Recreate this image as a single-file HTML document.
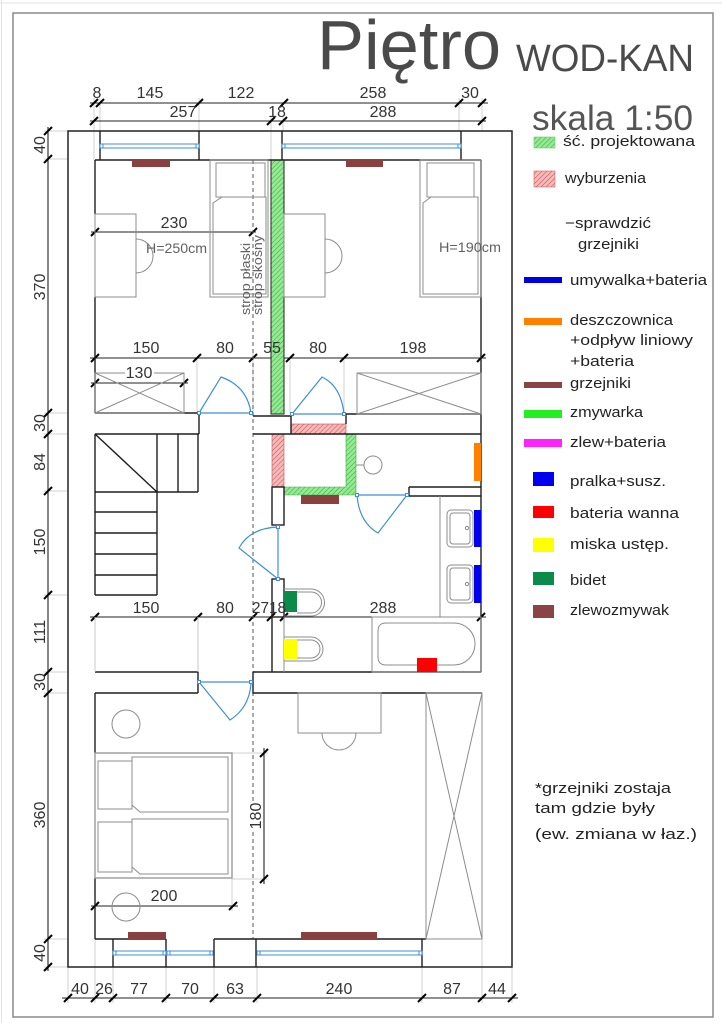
<!DOCTYPE html>
<html><head><meta charset="utf-8">
<style>html,body{margin:0;padding:0;background:#fff;}svg{display:block}</style>
</head>
<body>
<svg width="722" height="1023" viewBox="0 0 722 1023" xmlns="http://www.w3.org/2000/svg" font-family="'Liberation Sans', Arial, sans-serif">
<defs>
  <pattern id="gh" width="3.5" height="3.5" patternUnits="userSpaceOnUse" patternTransform="rotate(45)">
    <rect width="3.5" height="3.5" fill="#93ea93"/>
    <line x1="0" y1="0" x2="0" y2="3.5" stroke="#3da43d" stroke-width="1"/>
  </pattern>
  <pattern id="rh" width="3.5" height="3.5" patternUnits="userSpaceOnUse" patternTransform="rotate(45)">
    <rect width="3.5" height="3.5" fill="#f5b9b9"/>
    <line x1="0" y1="0" x2="0" y2="3.5" stroke="#d24a4a" stroke-width="1"/>
  </pattern>
</defs>
<rect width="722" height="1023" fill="#fff"/>
<!-- sheet frame -->
<line x1="0" y1="3" x2="722" y2="3" stroke="#e2e2e2" stroke-width="1"/>
<line x1="1.5" y1="0" x2="1.5" y2="1023" stroke="#e2e2e2" stroke-width="1"/>
<rect x="13" y="13" width="700" height="1004" fill="none" stroke="#8a8a8a" stroke-width="1.5"/>

<!-- title -->
<text x="317" y="69" font-size="70" fill="#4a4a4a" textLength="184" lengthAdjust="spacingAndGlyphs">Piętro</text>
<text x="516" y="71" font-size="38" fill="#4a4a4a" textLength="178" lengthAdjust="spacingAndGlyphs">WOD-KAN</text>
<text x="532" y="130" font-size="35" fill="#555" textLength="161" lengthAdjust="spacingAndGlyphs">skala 1:50</text>

<!-- ============ DIMENSIONS ============ -->
<g stroke="#d0d0d0" stroke-width="1" fill="none">
  <path d="M94,98 V160 M100,98 V131 M199,98 V131 M271,116 V160 M283,116 V131 M459,98 V131 M482,98 V131"/>
  <path d="M44,131 H68 M44,159 H68 M44,413 H68 M44,434 H68 M44,491 H68 M44,595 H68 M44,672 H68 M44,693 H68 M44,939 H68 M44,967 H68"/>
  <path d="M68,967 V1003 M95,939 V1003 M113,967 V1003 M166,967 V1003 M214,967 V1003 M257,967 V1003 M422,967 V1003 M482,939 V1003 M512,967 V1003"/>
  <path d="M197,358 V413 M253,353 V413 M290,358 V413 M344,358 V414 M95,617 V672 M198,617 V672 M232,878 V911 M232,753 H268 M232,879 H268"/>
</g>
<g stroke="#222" stroke-width="1.1" fill="none">
  <path d="M90,103 H488 M90,121 H486 M48,127 V971 M62,998 H518"/>
  <path d="M91,232 H256 M90,358 H486 M91,383 H188 M90,617 H486 M91,906 H238 M264,748 V884"/>
</g>
<g stroke="#000" stroke-width="2" fill="none">
  <path d="M90,107 l8,-8 M96,107 l8,-8 M195,107 l8,-8 M280,107 l8,-8 M455,107 l8,-8 M478,107 l8,-8"/>
  <path d="M90,125 l8,-8 M267,125 l8,-8 M279,125 l8,-8 M478,125 l8,-8"/>
  <path d="M44,135 l8,-8 M44,163 l8,-8 M44,417 l8,-8 M44,438 l8,-8 M44,495 l8,-8 M44,599 l8,-8 M44,676 l8,-8 M44,697 l8,-8 M44,943 l8,-8 M44,971 l8,-8"/>
  <path d="M64,1002 l8,-8 M91,1002 l8,-8 M109,1002 l8,-8 M162,1002 l8,-8 M210,1002 l8,-8 M253,1002 l8,-8 M418,1002 l8,-8 M478,1002 l8,-8 M508,1002 l8,-8"/>
  <path d="M91,236 l8,-8 M249,236 l8,-8"/>
  <path d="M91,362 l8,-8 M193,362 l8,-8 M249,362 l8,-8 M286,362 l8,-8 M340,362 l8,-8 M477,362 l8,-8"/>
  <path d="M91,387 l8,-8 M180,387 l8,-8"/>
  <path d="M91,621 l8,-8 M194,621 l8,-8 M249,621 l8,-8 M267,621 l8,-8 M280,621 l8,-8 M477,621 l8,-8"/>
  <path d="M91,910 l8,-8 M229,910 l8,-8"/>
  <path d="M260,757 l8,-8 M260,883 l8,-8"/>
</g>

<!-- ============ BUILDING ============ -->
<rect x="68" y="131" width="444" height="836" fill="none" stroke="#222" stroke-width="1.5"/>

<rect x="271" y="160" width="13" height="254" fill="url(#gh)" stroke="#222" stroke-width="1"/>
<rect x="272" y="434" width="12" height="53" fill="url(#rh)" stroke="#b55" stroke-width="0.6"/>
<rect x="291" y="424" width="55" height="10" fill="url(#rh)" stroke="#b55" stroke-width="0.6"/>
<path d="M346,434 H356 V495 H284 V487 H346 Z" fill="url(#gh)" stroke="#4a4" stroke-width="0.6"/>

<line x1="253" y1="160" x2="253" y2="939" stroke="#555" stroke-width="1" stroke-dasharray="4,3"/>

<g stroke="#1e1e1e" stroke-width="1.4" fill="none">
  <path d="M95,160 H481"/>
  <path d="M100,131 V160 M199,131 V160 M282,131 V160 M461,131 V160"/>
  <path d="M95,160 V214 M95,297 V413"/>
  <path d="M481,160 V672"/>
  <path d="M95,413 H199 V434 M95,434 H199"/>
  <path d="M253,416 H291 V434 M253,434 H481"/>
  <path d="M344,414 H481 M346,414 V424"/>
  <path d="M95,434 V595 M157,434 V595 M178,434 V492 M198,434 V492 M95,492 H198 M95,434 L157,492"/>
  <path d="M95,512 H157 M95,533 H157 M95,554 H157 M95,575 H157 M95,595 H157"/>
  <rect x="272" y="487" width="12" height="38"/>
  <rect x="272" y="579" width="12" height="38"/>
  <path d="M409,487 H481 M409,487 V496 H481"/>
  <path d="M272,617 V672 M253,672 H481 M253,672 V693 H482"/>
  <path d="M95,672 H198 V693 M95,693 H198"/>
  <path d="M95,693 V753 M95,878 V939"/>
  <path d="M95,939 H113 M113,939 H166 M214,939 H426"/>
  <path d="M113,939 V967 M166,939 V967 M214,939 V967 M256,939 V967 M422,939 V967"/>
</g>

<g stroke="#3d8fd9" stroke-width="1" fill="#fff">
  <rect x="100" y="144" width="99" height="4"/>
  <rect x="100" y="144" width="3" height="4"/><rect x="196" y="144" width="3" height="4"/>
  <rect x="282" y="144" width="179" height="4"/>
  <rect x="282" y="144" width="3" height="4"/><rect x="458" y="144" width="3" height="4"/>
  <rect x="113" y="951" width="100" height="4"/>
  <rect x="113" y="951" width="3" height="4"/><rect x="163" y="951" width="3" height="4"/><rect x="167" y="951" width="3" height="4"/><rect x="210" y="951" width="3" height="4"/>
  <rect x="257" y="951" width="165" height="4"/>
  <rect x="257" y="951" width="3" height="4"/><rect x="419" y="951" width="3" height="4"/>
</g>

<g stroke="#3d8fd9" stroke-width="1.2" fill="none">
  <path d="M199,413 H251 M199,413 L221,377 Q247,386 251,413"/>
  <path d="M292,414 H344 M292,414 L322,377 Q341,386 344,414"/>
  <path d="M278,527 V579 M278,579 L239,548 Q250,528 278,527"/>
  <path d="M357,495 H407 M407,495 L378,533 Q359,522 357,495"/>
  <path d="M199,682 H251 M199,682 L230,720 Q249,708 251,684"/>
</g>
<g stroke="#3d8fd9" stroke-width="1" fill="#fff">
  <rect x="197.5" y="411.5" width="3" height="3"/><rect x="249.5" y="411.5" width="3" height="3"/>
  <rect x="290.5" y="412.5" width="3" height="3"/><rect x="342.5" y="412.5" width="3" height="3"/>
  <rect x="276.5" y="525.5" width="3" height="3"/><rect x="276.5" y="577.5" width="3" height="3"/>
  <rect x="355.5" y="493.5" width="3" height="3"/><rect x="405.5" y="493.5" width="3" height="3"/>
  <rect x="197.5" y="680.5" width="3" height="3"/><rect x="249.5" y="680.5" width="3" height="3"/>
</g>

<g stroke="#8c8c8c" stroke-width="1" fill="none">
  <rect x="95" y="214" width="41" height="83"/>
  <path d="M136,239 A17,17 0 0 1 136,273"/>
  <rect x="210" y="160" width="58" height="137"/>
  <rect x="216" y="163" width="49" height="34"/>
  <path d="M222,197 H266 V294 H213 V203 Z"/>
  <rect x="95" y="373" width="89" height="40"/>
  <path d="M95,373 L184,413 M184,373 L95,413"/>
  <rect x="284" y="214" width="41" height="83"/>
  <path d="M325,239 A17,17 0 0 1 325,273"/>
  <rect x="420" y="160" width="61" height="137"/>
  <rect x="427" y="163" width="47" height="34"/>
  <path d="M431,197 H478 V294 H423 V203 Z"/>
  <rect x="357" y="373" width="124" height="41"/>
  <path d="M357,373 L481,414 M481,373 L357,414"/>
  <circle cx="373" cy="465" r="9"/>
  <path d="M356,465 H364"/>
  <path d="M440,496 V617"/>
  <rect x="447" y="510" width="26" height="37" rx="4"/>
  <rect x="450" y="513" width="20" height="31" rx="3"/>
  <circle cx="467" cy="528" r="1.6"/>
  <rect x="447" y="565" width="26" height="38" rx="4"/>
  <rect x="450" y="568" width="20" height="32" rx="3"/>
  <circle cx="467" cy="584" r="1.6"/>
  <path d="M284,589 H311 A13.5,13.5 0 0 1 311,616 H284"/>
  <path d="M297,592 H311 A10.5,10.5 0 0 1 311,613 H297"/>
  <path d="M284,637 H311 A12,12 0 0 1 311,661 H284"/>
  <path d="M297,640 H311 A9,9 0 0 1 311,658 H297"/>
  <rect x="372" y="617" width="109" height="55"/>
  <path d="M386,623 H454 A21,21 0 0 1 454,665 H386 Q378,665 378,657 V631 Q378,623 386,623 Z"/>
  <path d="M284,617 V672"/>
  <path d="M95,617 V672 M198,617 V672" stroke="#c8c8c8"/>
  <circle cx="126" cy="724" r="14"/>
  <circle cx="126" cy="907" r="14"/>
  <rect x="95" y="753" width="137" height="125" stroke="#9a9a9a" stroke-width="1.4"/>
  <rect x="98" y="761" width="34" height="48"/>
  <path d="M132,757 H228 V812 H140 L132,805 Z"/>
  <rect x="98" y="822" width="34" height="50"/>
  <path d="M132,819 H228 V874 H140 L132,867 Z"/>
  <rect x="298" y="693" width="83" height="40"/>
  <path d="M322,733 A17,17 0 0 0 356,733"/>
  <rect x="426" y="693" width="56" height="246"/>
  <path d="M426,693 L482,939 M482,693 L426,939"/>
</g>

<g stroke="none">
  <rect x="132" y="160" width="38" height="7" fill="#8b4040"/>
  <rect x="346" y="160" width="37" height="7" fill="#8b4040"/>
  <rect x="301" y="495" width="38" height="9" fill="#8b4040"/>
  <rect x="128" y="932" width="38" height="7" fill="#8b4040"/>
  <rect x="301" y="932" width="76" height="7" fill="#8b4040"/>
  <rect x="474" y="443" width="7" height="38" fill="#ff8000"/>
  <rect x="474" y="510" width="7" height="37" fill="#0000e8"/>
  <rect x="474" y="565" width="7" height="38" fill="#0000e8"/>
  <rect x="284" y="591" width="13" height="21" fill="#0b8a4a"/>
  <rect x="284" y="639" width="13" height="20" fill="#ffff00"/>
  <rect x="417" y="658" width="20" height="14" fill="#ff0000"/>
</g>

<g font-size="16" fill="#333" text-anchor="middle">
  <text x="97" y="98">8</text>
  <text x="150" y="98">145</text>
  <text x="241" y="98">122</text>
  <text x="373" y="98">258</text>
  <text x="470" y="98">30</text>
  <text x="183" y="117">257</text>
  <text x="277" y="117">18</text>
  <text x="383" y="117">288</text>

  <text x="174" y="228">230</text>
  <text x="146" y="353">150</text>
  <text x="225" y="353">80</text>
  <text x="272" y="353">55</text>
  <text x="318" y="353">80</text>
  <text x="413" y="353">198</text>

  <rect x="125" y="366" width="29" height="14" fill="#fff"/>
  <text x="139" y="378">130</text>

  <text x="146" y="613">150</text>
  <text x="225" y="613">80</text>
  <text x="269" y="613" textLength="34" lengthAdjust="spacingAndGlyphs">2718</text>
  <text x="383" y="613">288</text>

  <text x="164" y="901">200</text>

  <text x="80" y="994">40</text>
  <text x="104" y="994">26</text>
  <text x="139" y="994">77</text>
  <text x="190" y="994">70</text>
  <text x="235" y="994">63</text>
  <text x="339" y="994">240</text>
  <text x="452" y="994">87</text>
  <text x="497" y="994">44</text>

  <text transform="translate(45,145) rotate(-90)">40</text>
  <text transform="translate(45,287) rotate(-90)">370</text>
  <text transform="translate(45,423) rotate(-90)">30</text>
  <text transform="translate(45,462) rotate(-90)">84</text>
  <text transform="translate(45,542) rotate(-90)">150</text>
  <text transform="translate(45,632) rotate(-90)">111</text>
  <text transform="translate(45,682) rotate(-90)">30</text>
  <text transform="translate(45,815) rotate(-90)">360</text>
  <text transform="translate(45,953) rotate(-90)">40</text>
</g>
<rect x="246" y="801" width="16" height="30" fill="#fff"/>
<text transform="translate(261,816) rotate(-90)" font-size="16" fill="#333" text-anchor="middle">180</text>

<g font-size="14" fill="#606060">
  <text x="146" y="253" textLength="61" lengthAdjust="spacingAndGlyphs">H=250cm</text>
  <text x="439" y="252" textLength="62" lengthAdjust="spacingAndGlyphs">H=190cm</text>
  <text transform="translate(250,315) rotate(-90)" font-size="13" textLength="72" lengthAdjust="spacingAndGlyphs">strop płaski</text>
  <text transform="translate(262,315) rotate(-90)" font-size="13" textLength="80" lengthAdjust="spacingAndGlyphs">strop skośny</text>
</g>

<rect x="534" y="137" width="21" height="11" fill="url(#gh)" stroke="#6c6" stroke-width="0.6"/>
<rect x="534" y="171" width="21" height="16" fill="url(#rh)" stroke="#c66" stroke-width="0.6"/>
<rect x="524" y="277" width="38" height="6" fill="#0000e6"/>
<rect x="524" y="318" width="38" height="7" fill="#ff8000"/>
<rect x="524" y="382" width="38" height="6" fill="#8b4444"/>
<rect x="524" y="410" width="38" height="8" fill="#22ee22"/>
<rect x="524" y="439" width="38" height="8" fill="#ff22ff"/>
<rect x="533" y="472" width="21" height="14" fill="#0000ee"/>
<rect x="533" y="506" width="21" height="12" fill="#ff0000"/>
<rect x="533" y="538" width="21" height="14" fill="#ffff00"/>
<rect x="533" y="572" width="21" height="13" fill="#0b8a4a"/>
<rect x="533" y="605" width="21" height="13" fill="#8b4444"/>

<g font-size="15" fill="#222">
  <text x="563" y="146" textLength="132" lengthAdjust="spacingAndGlyphs">ść. projektowana</text>
  <text x="565" y="183" textLength="81" lengthAdjust="spacingAndGlyphs">wyburzenia</text>
  <text x="565" y="228" textLength="86" lengthAdjust="spacingAndGlyphs">−sprawdzić</text>
  <text x="578" y="249" textLength="61" lengthAdjust="spacingAndGlyphs">grzejniki</text>
  <text x="570" y="285" textLength="137" lengthAdjust="spacingAndGlyphs">umywalka+bateria</text>
  <text x="570" y="325" textLength="103" lengthAdjust="spacingAndGlyphs">deszczownica</text>
  <text x="570" y="345" textLength="123" lengthAdjust="spacingAndGlyphs">+odpływ  liniowy</text>
  <text x="570" y="366" textLength="64" lengthAdjust="spacingAndGlyphs">+bateria</text>
  <text x="570" y="388" textLength="61" lengthAdjust="spacingAndGlyphs">grzejniki</text>
  <text x="570" y="417" textLength="73" lengthAdjust="spacingAndGlyphs">zmywarka</text>
  <text x="570" y="447" textLength="96" lengthAdjust="spacingAndGlyphs">zlew+bateria</text>
  <text x="570" y="486" textLength="96" lengthAdjust="spacingAndGlyphs">pralka+susz.</text>
  <text x="570" y="518" textLength="109" lengthAdjust="spacingAndGlyphs">bateria  wanna</text>
  <text x="570" y="549" textLength="99" lengthAdjust="spacingAndGlyphs">miska  ustęp.</text>
  <text x="570" y="585" textLength="36" lengthAdjust="spacingAndGlyphs">bidet</text>
  <text x="570" y="615" textLength="99" lengthAdjust="spacingAndGlyphs">zlewozmywak</text>
  <text x="535" y="793" textLength="136" lengthAdjust="spacingAndGlyphs">*grzejniki  zostaja</text>
  <text x="535" y="813" textLength="120" lengthAdjust="spacingAndGlyphs">tam  gdzie  były</text>
  <text x="535" y="839" textLength="162" lengthAdjust="spacingAndGlyphs">(ew.  zmiana  w  łaz.)</text>
</g>
</svg>
</body>
</html>
